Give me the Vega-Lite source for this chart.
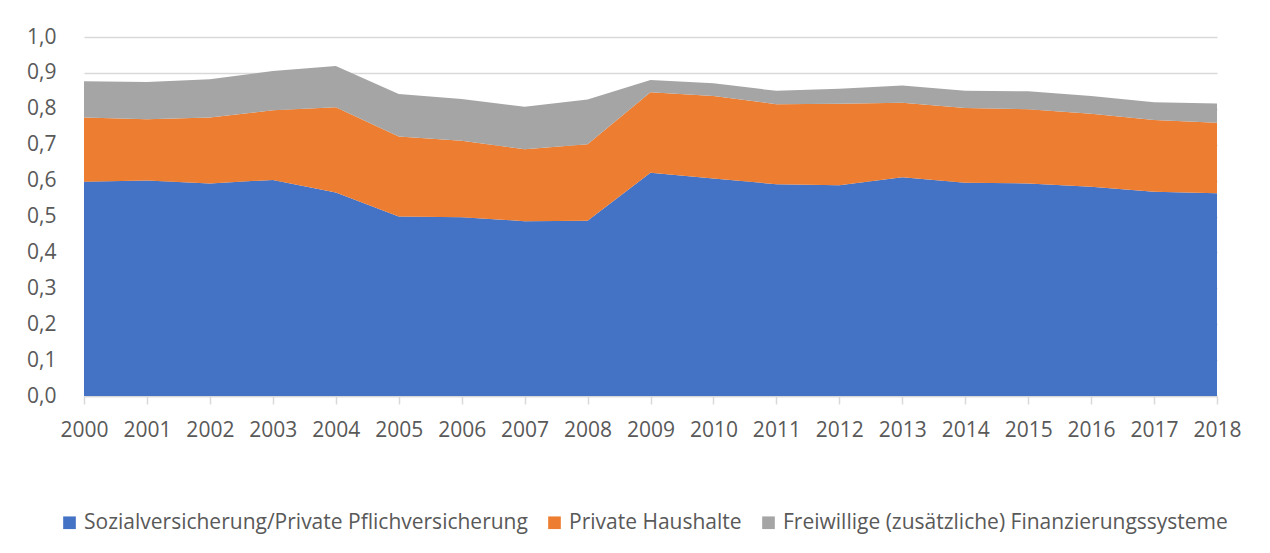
{
  "$schema": "https://vega.github.io/schema/vega-lite/v6.json",
  "autosize": {"type": "none"},
  "width": 1133,
  "height": 359,
  "padding": {"left": 84, "top": 37, "right": 53, "bottom": 157},
  "background": "white",
  "config": {
    "view": {"stroke": null},
    "font": "Open Sans"
  },
  "data": {
    "values": [
      {"jahr": "2000", "reihe": "Sozialversicherung/Private Pflichversicherung", "k": 1, "wert": 0.597},
      {"jahr": "2001", "reihe": "Sozialversicherung/Private Pflichversicherung", "k": 1, "wert": 0.600},
      {"jahr": "2002", "reihe": "Sozialversicherung/Private Pflichversicherung", "k": 1, "wert": 0.592},
      {"jahr": "2003", "reihe": "Sozialversicherung/Private Pflichversicherung", "k": 1, "wert": 0.602},
      {"jahr": "2004", "reihe": "Sozialversicherung/Private Pflichversicherung", "k": 1, "wert": 0.567},
      {"jahr": "2005", "reihe": "Sozialversicherung/Private Pflichversicherung", "k": 1, "wert": 0.500},
      {"jahr": "2006", "reihe": "Sozialversicherung/Private Pflichversicherung", "k": 1, "wert": 0.498},
      {"jahr": "2007", "reihe": "Sozialversicherung/Private Pflichversicherung", "k": 1, "wert": 0.487},
      {"jahr": "2008", "reihe": "Sozialversicherung/Private Pflichversicherung", "k": 1, "wert": 0.488},
      {"jahr": "2009", "reihe": "Sozialversicherung/Private Pflichversicherung", "k": 1, "wert": 0.622},
      {"jahr": "2010", "reihe": "Sozialversicherung/Private Pflichversicherung", "k": 1, "wert": 0.606},
      {"jahr": "2011", "reihe": "Sozialversicherung/Private Pflichversicherung", "k": 1, "wert": 0.590},
      {"jahr": "2012", "reihe": "Sozialversicherung/Private Pflichversicherung", "k": 1, "wert": 0.587},
      {"jahr": "2013", "reihe": "Sozialversicherung/Private Pflichversicherung", "k": 1, "wert": 0.609},
      {"jahr": "2014", "reihe": "Sozialversicherung/Private Pflichversicherung", "k": 1, "wert": 0.594},
      {"jahr": "2015", "reihe": "Sozialversicherung/Private Pflichversicherung", "k": 1, "wert": 0.592},
      {"jahr": "2016", "reihe": "Sozialversicherung/Private Pflichversicherung", "k": 1, "wert": 0.583},
      {"jahr": "2017", "reihe": "Sozialversicherung/Private Pflichversicherung", "k": 1, "wert": 0.569},
      {"jahr": "2018", "reihe": "Sozialversicherung/Private Pflichversicherung", "k": 1, "wert": 0.565},
      {"jahr": "2000", "reihe": "Private Haushalte", "k": 2, "wert": 0.179},
      {"jahr": "2001", "reihe": "Private Haushalte", "k": 2, "wert": 0.171},
      {"jahr": "2002", "reihe": "Private Haushalte", "k": 2, "wert": 0.184},
      {"jahr": "2003", "reihe": "Private Haushalte", "k": 2, "wert": 0.194},
      {"jahr": "2004", "reihe": "Private Haushalte", "k": 2, "wert": 0.237},
      {"jahr": "2005", "reihe": "Private Haushalte", "k": 2, "wert": 0.223},
      {"jahr": "2006", "reihe": "Private Haushalte", "k": 2, "wert": 0.213},
      {"jahr": "2007", "reihe": "Private Haushalte", "k": 2, "wert": 0.200},
      {"jahr": "2008", "reihe": "Private Haushalte", "k": 2, "wert": 0.213},
      {"jahr": "2009", "reihe": "Private Haushalte", "k": 2, "wert": 0.224},
      {"jahr": "2010", "reihe": "Private Haushalte", "k": 2, "wert": 0.230},
      {"jahr": "2011", "reihe": "Private Haushalte", "k": 2, "wert": 0.223},
      {"jahr": "2012", "reihe": "Private Haushalte", "k": 2, "wert": 0.227},
      {"jahr": "2013", "reihe": "Private Haushalte", "k": 2, "wert": 0.208},
      {"jahr": "2014", "reihe": "Private Haushalte", "k": 2, "wert": 0.208},
      {"jahr": "2015", "reihe": "Private Haushalte", "k": 2, "wert": 0.207},
      {"jahr": "2016", "reihe": "Private Haushalte", "k": 2, "wert": 0.203},
      {"jahr": "2017", "reihe": "Private Haushalte", "k": 2, "wert": 0.200},
      {"jahr": "2018", "reihe": "Private Haushalte", "k": 2, "wert": 0.196},
      {"jahr": "2000", "reihe": "Freiwillige (zusätzliche) Finanzierungssysteme", "k": 3, "wert": 0.101},
      {"jahr": "2001", "reihe": "Freiwillige (zusätzliche) Finanzierungssysteme", "k": 3, "wert": 0.104},
      {"jahr": "2002", "reihe": "Freiwillige (zusätzliche) Finanzierungssysteme", "k": 3, "wert": 0.106},
      {"jahr": "2003", "reihe": "Freiwillige (zusätzliche) Finanzierungssysteme", "k": 3, "wert": 0.109},
      {"jahr": "2004", "reihe": "Freiwillige (zusätzliche) Finanzierungssysteme", "k": 3, "wert": 0.115},
      {"jahr": "2005", "reihe": "Freiwillige (zusätzliche) Finanzierungssysteme", "k": 3, "wert": 0.118},
      {"jahr": "2006", "reihe": "Freiwillige (zusätzliche) Finanzierungssysteme", "k": 3, "wert": 0.116},
      {"jahr": "2007", "reihe": "Freiwillige (zusätzliche) Finanzierungssysteme", "k": 3, "wert": 0.119},
      {"jahr": "2008", "reihe": "Freiwillige (zusätzliche) Finanzierungssysteme", "k": 3, "wert": 0.125},
      {"jahr": "2009", "reihe": "Freiwillige (zusätzliche) Finanzierungssysteme", "k": 3, "wert": 0.034},
      {"jahr": "2010", "reihe": "Freiwillige (zusätzliche) Finanzierungssysteme", "k": 3, "wert": 0.035},
      {"jahr": "2011", "reihe": "Freiwillige (zusätzliche) Finanzierungssysteme", "k": 3, "wert": 0.037},
      {"jahr": "2012", "reihe": "Freiwillige (zusätzliche) Finanzierungssysteme", "k": 3, "wert": 0.042},
      {"jahr": "2013", "reihe": "Freiwillige (zusätzliche) Finanzierungssysteme", "k": 3, "wert": 0.048},
      {"jahr": "2014", "reihe": "Freiwillige (zusätzliche) Finanzierungssysteme", "k": 3, "wert": 0.048},
      {"jahr": "2015", "reihe": "Freiwillige (zusätzliche) Finanzierungssysteme", "k": 3, "wert": 0.050},
      {"jahr": "2016", "reihe": "Freiwillige (zusätzliche) Finanzierungssysteme", "k": 3, "wert": 0.050},
      {"jahr": "2017", "reihe": "Freiwillige (zusätzliche) Finanzierungssysteme", "k": 3, "wert": 0.049},
      {"jahr": "2018", "reihe": "Freiwillige (zusätzliche) Finanzierungssysteme", "k": 3, "wert": 0.054}
    ]
  },
  "mark": {"type": "area", "opacity": 1},
  "encoding": {
    "x": {
      "field": "jahr",
      "type": "ordinal",
      "scale": {"type": "point", "padding": 0},
      "axis": {
        "title": null,
        "labelAngle": 0,
        "labelFontSize": 21,
        "labelColor": "#595959",
        "labelPadding": 15,
        "tickColor": "#D9D9D9",
        "tickSize": 8,
        "tickWidth": 1.5,
        "domainColor": "#D9D9D9",
        "domainWidth": 1.5,
        "grid": false
      }
    },
    "y": {
      "field": "wert",
      "type": "quantitative",
      "stack": "zero",
      "scale": {"domain": [0, 1], "nice": false},
      "axis": {
        "title": null,
        "values": [0, 0.1, 0.2, 0.3, 0.4, 0.5, 0.6, 0.7, 0.8, 0.9, 1.0],
        "labelExpr": "replace(format(datum.value, '.1f'), '.', ',')",
        "labelFontSize": 21,
        "labelColor": "#595959",
        "labelPadding": 28,
        "ticks": false,
        "domain": false,
        "grid": true,
        "gridColor": "#D9D9D9",
        "gridWidth": 1.5
      }
    },
    "color": {
      "field": "reihe",
      "type": "nominal",
      "scale": {
        "domain": ["Sozialversicherung/Private Pflichversicherung", "Private Haushalte", "Freiwillige (zusätzliche) Finanzierungssysteme"],
        "range": ["#4472C4", "#ED7D31", "#A5A5A5"]
      },
      "legend": {
        "title": null,
        "orient": "none",
        "direction": "horizontal",
        "legendX": -25,
        "legendY": 475,
        "symbolType": "square",
        "symbolSize": 160,
        "symbolStrokeWidth": 0,
        "labelFontSize": 21,
        "labelColor": "#595959",
        "labelOffset": 4,
        "columnPadding": 16,
        "labelLimit": 700
      }
    },
    "order": {"field": "k", "type": "quantitative"}
  }
}
